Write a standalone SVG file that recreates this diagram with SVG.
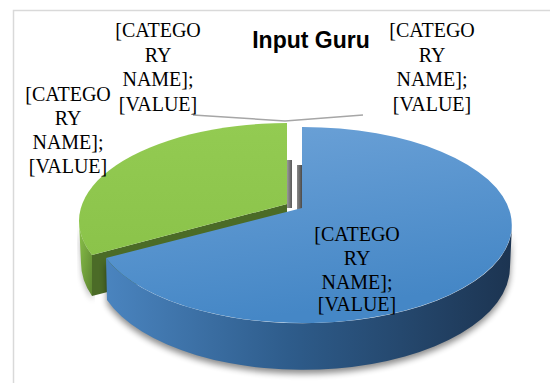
<svg xmlns="http://www.w3.org/2000/svg" width="550" height="383" viewBox="0 0 550 383">
  <style>
    .lbl { font-size: 20px; fill: #000; text-anchor: middle; }
    .title { font-weight: bold; font-size: 23px; fill: #000; text-anchor: middle; }
    .leader { fill: none; stroke: #a6a6a6; stroke-width: 1.5; }
  </style>
  <defs>
    <linearGradient id="blueTop" x1="0" y1="0" x2="0.3" y2="1">
      <stop offset="0" stop-color="#6ea3d8"/>
      <stop offset="1" stop-color="#4587c6"/>
    </linearGradient>
    <linearGradient id="blueSide" x1="0" y1="0" x2="1" y2="0">
      <stop offset="0" stop-color="#4a84bf"/>
      <stop offset="0.45" stop-color="#2e5c8b"/>
      <stop offset="1" stop-color="#1c3451"/>
    </linearGradient>
    <linearGradient id="greenTop" x1="0" y1="0" x2="0" y2="1">
      <stop offset="0" stop-color="#93cb52"/>
      <stop offset="1" stop-color="#8bc34a"/>
    </linearGradient>
    <linearGradient id="greenSide" x1="0" y1="0" x2="1" y2="1">
      <stop offset="0" stop-color="#8cc44b"/>
      <stop offset="1" stop-color="#5c8430"/>
    </linearGradient>
    <linearGradient id="gapL" x1="0" y1="0" x2="1" y2="0">
      <stop offset="0" stop-color="#9a9a9a"/>
      <stop offset="1" stop-color="#5a5a5a"/>
    </linearGradient>
    <linearGradient id="gapR" x1="0" y1="0" x2="1" y2="0">
      <stop offset="0" stop-color="#8a8a8a"/>
      <stop offset="1" stop-color="#444"/>
    </linearGradient>
    <filter id="shadow" x="-10%" y="-10%" width="120%" height="130%">
      <feGaussianBlur stdDeviation="3"/>
    </filter>
  </defs>

  <rect x="13.5" y="10.5" width="560" height="400" fill="#fff" stroke="#d9d9d9" stroke-width="1.5"/>

  <g id="title" font-family="'Liberation Sans', Arial, sans-serif">
    <text class="title" x="311" y="48">Input Guru</text>
  </g>

  <g id="connectors">
    <polyline class="leader" points="193,115 285,121 363,115"/>
  </g>

  <g id="gap">
    <rect x="287" y="160" width="5" height="48" fill="url(#gapL)"/>
    <rect x="297" y="165" width="5.5" height="45" fill="url(#gapR)"/>
  </g>

  <g id="slice-green">
    <path d="M79,223 A209 98 0 0 0 92,255 L93,300 A207 103 0 0 1 82,266 Z" fill="#000" opacity="0.35" filter="url(#shadow)"/>
    <path d="M92,255 L287,204 L287,246 L92,296 Z" fill="#4b6b27"/>
    <path d="M79,221 A209 98 0 0 0 92,255 L92,296 A207 103 0 0 1 81,263 Z" fill="url(#greenSide)"/>
    <path d="M287,204 L287,123 A209 98 0 0 0 92,255 Z" fill="url(#greenTop)"/>
  </g>

  <g id="slice-blue">
    <path d="M512,229 A209 98 0 0 1 106,262 L107,304 A207 103 0 0 0 510,271 Z" fill="#000" opacity="0.45" filter="url(#shadow)"/>
    <path d="M512,225 A209 98 0 0 1 106,258 L107,300 A207 103 0 0 0 510,267 Z" fill="url(#blueSide)"/>
    <path d="M302,208 L302,127 A209 98 0 1 1 106,258 Z" fill="url(#blueTop)"/>
  </g>

  <g id="label-top-left" font-family="'Liberation Serif', 'Times New Roman', serif">
    <text class="lbl" x="158" y="37">[CATEGO</text>
    <text class="lbl" x="158" y="61.5">RY</text>
    <text class="lbl" x="158" y="86">NAME];</text>
    <text class="lbl" x="158" y="110.5">[VALUE]</text>
  </g>
  <g id="label-top-right" font-family="'Liberation Serif', 'Times New Roman', serif">
    <text class="lbl" x="432" y="37">[CATEGO</text>
    <text class="lbl" x="432" y="61.5">RY</text>
    <text class="lbl" x="432" y="86">NAME];</text>
    <text class="lbl" x="432" y="110.5">[VALUE]</text>
  </g>
  <g id="label-left" font-family="'Liberation Serif', 'Times New Roman', serif">
    <text class="lbl" x="68" y="100.5">[CATEGO</text>
    <text class="lbl" x="68" y="124.5">RY</text>
    <text class="lbl" x="68" y="149">NAME];</text>
    <text class="lbl" x="68" y="173">[VALUE]</text>
  </g>
  <g id="label-blue" font-family="'Liberation Serif', 'Times New Roman', serif">
    <text class="lbl" x="357" y="241">[CATEGO</text>
    <text class="lbl" x="357" y="265">RY</text>
    <text class="lbl" x="357" y="289">NAME];</text>
    <text class="lbl" x="357" y="311">[VALUE]</text>
  </g>
</svg>
